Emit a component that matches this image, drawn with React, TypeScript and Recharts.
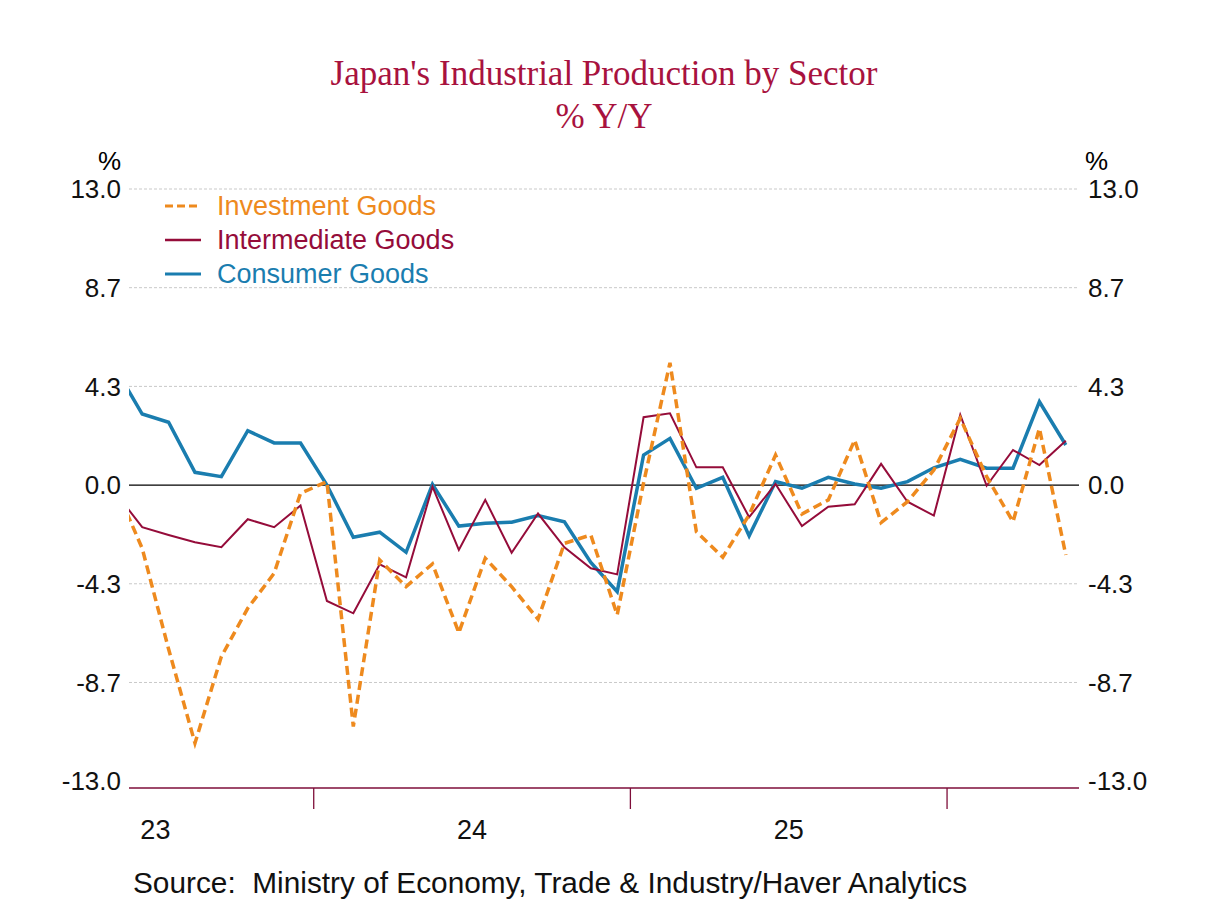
import React from "react";
import { CartesianGrid, Line, LineChart, ReferenceLine, XAxis, YAxis } from "recharts";

// monthly, May-23 .. May-26 (first month sits just outside the plot and is clipped)
const months = [
  "2023-05", "2023-06", "2023-07", "2023-08", "2023-09", "2023-10", "2023-11", "2023-12",
  "2024-01", "2024-02", "2024-03", "2024-04", "2024-05", "2024-06", "2024-07", "2024-08",
  "2024-09", "2024-10", "2024-11", "2024-12", "2025-01", "2025-02", "2025-03", "2025-04",
  "2025-05", "2025-06", "2025-07", "2025-08", "2025-09", "2025-10", "2025-11", "2025-12",
  "2026-01", "2026-02", "2026-03", "2026-04", "2026-05",
];

const investment = [
  -0.1, -2.78, -7.2, -11.33, -7.53, -5.41, -3.87, -0.36, 0.15, -10.6, -3.29, -4.46, -3.46,
  -6.48, -3.21, -4.46, -5.89, -2.56, -2.19, -5.7, 0.1, 5.37, -2.05, -3.17, -1.31, 1.32,
  -1.27, -0.65, 1.98, -1.65, -0.73, 0.66, 2.93, 0.37, -1.61, 2.49, -3.07,
];

const intermediate = [
  -0.35, -1.85, -2.19, -2.51, -2.73, -1.5, -1.85, -0.9, -5.09, -5.63, -3.48, -4.05, -0.07,
  -2.85, -0.65, -2.97, -1.25, -2.73, -3.65, -3.92, 2.98, 3.15, 0.78, 0.78, -1.41, 0.05,
  -1.8, -0.95, -0.84, 0.93, -0.73, -1.34, 3.08, -0.03, 1.54, 0.88, 1.95,
];

const consumer = [
  5.1, 3.12, 2.76, 0.56, 0.37, 2.39, 1.85, 1.85, 0.0, -2.29, -2.07, -2.95, 0.03, -1.8,
  -1.68, -1.63, -1.34, -1.61, -3.4, -4.68, 1.32, 2.05, -0.14, 0.34, -2.23, 0.15, -0.14,
  0.34, 0.05, -0.14, 0.15, 0.76, 1.13, 0.74, 0.74, 3.66, 1.76,
];

const yTicks = [-13, -8.667, -4.333, 0, 4.333, 8.667, 13];
const gridValues = [13, 8.667, 4.333, -4.333, -8.667];
const yearLabels = ["23", "24", "25"];
const yearMid = [0.5, 12.5, 24.5]; // index of mid-year under each label
const yearBreaks = [6.5, 18.5, 30.5];

const series = [
  { key: "investment", name: "Investment Goods", color: "#EE8A1E", width: 3.5, dash: "9 5" },
  { key: "intermediate", name: "Intermediate Goods", color: "#950C3A", width: 2, dash: undefined },
  { key: "consumer", name: "Consumer Goods", color: "#1A7DAF", width: 3.5, dash: undefined },
];

const rows = months.map((m, idx) => ({
  month: m,
  i: idx - 1,
  investment: investment[idx],
  intermediate: intermediate[idx],
  consumer: consumer[idx],
}));

const SANS = '"Liberation Sans", Arial, sans-serif';
const CRIMSON = "#A8123E";

function LegendBox() {
  return (
    <div style={{ position: "absolute", left: 165, top: 189, fontFamily: SANS, fontSize: 27 }}>
      {series.map((s) => (
        <div key={s.key} style={{ display: "flex", alignItems: "center", height: 34 }}>
          <svg width={36} height={6} style={{ marginRight: 16 }}>
            <line x1={0} y1={3} x2={36} y2={3} stroke={s.color} strokeWidth={s.key === "intermediate" ? 2.5 : 3} strokeDasharray={s.dash ? "8 4" : undefined} />
          </svg>
          <span style={{ color: s.color }}>{s.name}</span>
        </div>
      ))}
    </div>
  );
}

export default function App() {
  const fmt = (v: number) => v.toFixed(1);
  return (
    <div style={{ position: "absolute", left: 0, top: 0, width: 1208, height: 906, background: "#fff" }}>
      <div style={{ position: "absolute", left: 0, width: 1208, top: 52, textAlign: "center", fontFamily: '"Liberation Serif", "Times New Roman", serif', fontSize: 35, lineHeight: "43px", color: CRIMSON }}>
        <div>Japan's Industrial Production by Sector</div>
        <div>% Y/Y</div>
      </div>
      <div style={{ position: "absolute", left: 98, top: 146, fontFamily: SANS, fontSize: 26 }}>%</div>
      <div style={{ position: "absolute", left: 1085, top: 146, fontFamily: SANS, fontSize: 26 }}>%</div>
      <LineChart width={1208} height={906} data={rows} margin={{ top: 189, right: 69, bottom: 47, left: 69 }}>
        <CartesianGrid vertical={false} horizontalValues={gridValues} stroke="#c9c9c9" strokeDasharray="3 2" yAxisId="left" />
        <XAxis
          xAxisId="main"
          dataKey="i"
          type="number"
          domain={[-0.5, 35.5]}
          allowDataOverflow
          ticks={yearBreaks}
          tickFormatter={() => ""}
          tickSize={21}
          height={21}
          axisLine={{ stroke: "#7E0E3A", strokeWidth: 1.3 }}
          tickLine={{ stroke: "#7E0E3A", strokeWidth: 1.3 }}
        />
        <XAxis
          xAxisId="years"
          dataKey="i"
          type="number"
          domain={[-0.5, 35.5]}
          allowDataOverflow
          ticks={yearMid}
          tickFormatter={(v: number) => yearLabels[yearMid.indexOf(v)]}
          axisLine={false}
          tickLine={false}
          tickSize={0}
          tickMargin={11}
          height={50}
          tick={{ fill: "#111", fontSize: 27, fontFamily: SANS }}
        />
        <YAxis
          yAxisId="left"
          domain={[-13.3, 13]}
          allowDataOverflow
          ticks={yTicks}
          tickFormatter={fmt}
          axisLine={false}
          tickLine={false}
          tickSize={0}
          tickMargin={8}
          width={60}
          tick={{ fill: "#111", fontSize: 26, fontFamily: SANS }}
        />
        <YAxis
          yAxisId="right"
          orientation="right"
          domain={[-13.3, 13]}
          allowDataOverflow
          ticks={yTicks}
          tickFormatter={fmt}
          axisLine={false}
          tickLine={false}
          tickSize={0}
          tickMargin={9}
          width={60}
          tick={{ fill: "#111", fontSize: 26, fontFamily: SANS, textAnchor: "start" }}
        />
        <ReferenceLine y={0} yAxisId="left" xAxisId="main" stroke="#000" strokeWidth={1.2} />
        {[series[2], series[1], series[0]].map((s) => (
          <Line
            key={s.key}
            xAxisId="main"
            yAxisId="left"
            type="linear"
            dataKey={s.key}
            name={s.name}
            stroke={s.color}
            strokeWidth={s.width}
            strokeDasharray={s.dash}
            dot={false}
            activeDot={false}
            isAnimationActive={false}
          />
        ))}
      </LineChart>
      <LegendBox />
      <div style={{ position: "absolute", left: 133, top: 866, fontFamily: SANS, fontSize: 29.8, color: "#111", whiteSpace: "pre" }}>
        {"Source:  Ministry of Economy, Trade & Industry/Haver Analytics"}
      </div>
    </div>
  );
}
